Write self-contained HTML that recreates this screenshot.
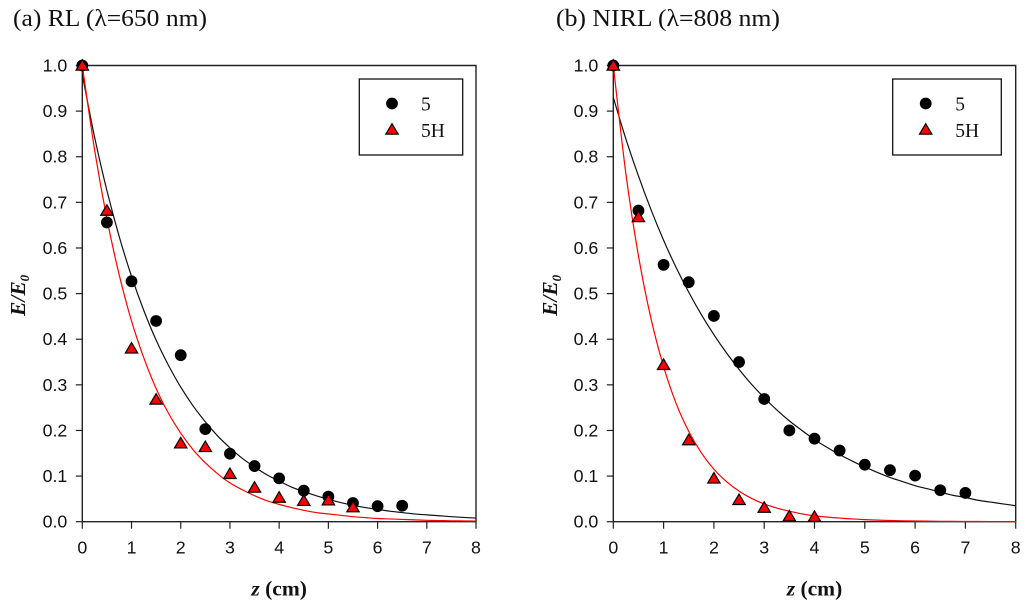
<!DOCTYPE html>
<html lang="en">
<head>
<meta charset="utf-8">
<title>E/E0 versus depth for RL and NIRL</title>
<style>
html,body{margin:0;padding:0;background:#fff;}
svg{display:block;filter:blur(0.35px);}
.serif{font-family:"Liberation Serif",serif;}
.sans{font-family:"Liberation Sans",sans-serif;}
</style>
</head>
<body>
<svg id="chart" xmlns="http://www.w3.org/2000/svg" width="1024" height="604" viewBox="0 0 1024 604">
  <rect width="1024" height="604" fill="#fff"/>
  <text class="serif" x="13" y="26" font-size="24" fill="#111" textLength="194" lengthAdjust="spacingAndGlyphs">(a) RL (λ=650 nm)</text>
  <text class="serif" x="556" y="26" font-size="24" fill="#111" textLength="224" lengthAdjust="spacingAndGlyphs">(b) NIRL (λ=808 nm)</text>
  <g id="panel-a"></g>
  <g id="panel-b"></g>
</svg>
<script>
var yTickLabels = ['0.0','0.1','0.2','0.3','0.4','0.5','0.6','0.7','0.8','0.9','1.0'];
var xTickLabels = ['0','1','2','3','4','5','6','7','8'];
var legendLabels = ['5','5H'];

var curveDepths = [0,0.25,0.5,0.75,1,1.25,1.5,1.75,2,2.25,2.5,2.75,3,3.25,3.5,3.75,4,4.25,4.5,4.75,5,5.25,5.5,5.75,6,6.25,6.5,6.75,7,7.25,7.5,7.75,8];
var curveA5 = [0.98,0.843,0.726,0.625,0.538,0.463,0.398,0.343,0.295,0.254,0.219,0.188,0.162,0.139,0.120,0.103,0.089,0.076,0.066,0.057,0.049,0.042,0.036,0.031,0.027,0.023,0.020,0.017,0.015,0.013,0.011,0.0093,0.008];
var curveA5H = [1,0.815,0.664,0.541,0.440,0.359,0.292,0.238,0.194,0.158,0.129,0.105,0.085,0.070,0.057,0.046,0.038,0.031,0.025,0.020,0.017,0.014,0.011,0.009,0.007,0.006,0.005,0.004,0.003,0.0025,0.002,0.0017,0.0014];
var curveB5 = [0.93,0.839,0.758,0.684,0.617,0.557,0.503,0.454,0.410,0.370,0.334,0.301,0.272,0.245,0.221,0.200,0.180,0.163,0.147,0.133,0.120,0.108,0.097,0.088,0.079,0.072,0.065,0.058,0.053,0.047,0.043,0.039,0.035];
var curveB5H = [1,0.763,0.583,0.445,0.340,0.259,0.198,0.151,0.115,0.088,0.067,0.051,0.039,0.030,0.023,0.017,0.013,0.010,0.008,0.006,0.0046,0.0035,0.0027,0.002,0.0015,0.0012,0.0009,0.0007,0.0005,0.0004,0.0003,0.0002,0.0002];

var pointsADepth5 = [0,0.5,1,1.5,2,2.5,3,3.5,4,4.5,5,5.5,6,6.5];
var pointsAValue5 = [1,0.656,0.527,0.44,0.365,0.203,0.149,0.122,0.095,0.068,0.055,0.041,0.034,0.035];
var pointsADepth5H = [0,0.5,1,1.5,2,2.5,3,3.5,4,4.5,5,5.5];
var pointsAValue5H = [1,0.682,0.38,0.268,0.172,0.164,0.105,0.075,0.053,0.046,0.047,0.032];
var pointsBDepth5 = [0,0.5,1,1.5,2,2.5,3,3.5,4,4.5,5,5.5,6,6.5,7];
var pointsBValue5 = [1,0.682,0.563,0.525,0.451,0.35,0.269,0.2,0.182,0.156,0.125,0.113,0.101,0.069,0.063];
var pointsBDepth5H = [0,0.5,1,1.5,2,2.5,3,3.5,4];
var pointsBValue5H = [1,0.668,0.344,0.179,0.095,0.048,0.031,0.012,0.011];

var NS = 'http://www.w3.org/2000/svg';
var AXIS = '#222';
var TEXT = '#111';

function make(parent, tag, attrs, text) {
  var el = document.createElementNS(NS, tag);
  for (var k in attrs) el.setAttribute(k, attrs[k]);
  if (text !== undefined) el.textContent = text;
  parent.appendChild(el);
  return el;
}

function drawCircle(parent, cx, cy) {
  var el = make(parent, 'circle', {cx: cx, cy: cy, r: 5.9, fill: '#000'});
  
  
}

function drawTriangle(parent, cx, cy) {
  var pts = cx + ',' + (cy - 5.8) + ' ' + (cx + 6.2) + ',' + (cy + 4.7) + ' ' + (cx - 6.2) + ',' + (cy + 4.7);
  var el = make(parent, 'polygon', {points: pts, fill: '#f00', stroke: '#000', 'stroke-width': 1.2, 'stroke-linejoin': 'miter'});
  
  
}

function drawCurve(parent, sx, sy, depths, values, color, name) {
  var p = depths.map(function (d, i) { return [sx(d), sy(values[i])]; });
  var d = 'M' + p[0][0] + ' ' + p[0][1];
  for (var i = 0; i < p.length - 1; i++) {
    var a = p[Math.max(i - 1, 0)], b = p[i], c = p[i + 1], e = p[Math.min(i + 2, p.length - 1)];
    d += ' C' + (b[0] + (c[0] - a[0]) / 6) + ' ' + (b[1] + (c[1] - a[1]) / 6) + ' ' +
         (c[0] - (e[0] - b[0]) / 6) + ' ' + (c[1] - (e[1] - b[1]) / 6) + ' ' + c[0] + ' ' + c[1];
  }
  var el = make(parent, 'path', {d: d, fill: 'none', stroke: color, 'stroke-width': 1.2});
  
  
}

function drawPanel(cfg) {
  var g = document.getElementById(cfg.id);
  var top = 65.5, bottom = 521.7;
  var sx = function (v) { return cfg.x0 + (cfg.x1 - cfg.x0) * v / 8; };
  var sy = function (v) { return bottom + (top - bottom) * v; };

  var frame = make(g, 'path', {
    d: 'M' + cfg.x0 + ' ' + top + 'H' + cfg.x1 + 'V' + bottom + 'H' + cfg.x0 + 'Z',
    fill: 'none', stroke: AXIS, 'stroke-width': 1.4
  });
  
  

  yTickLabels.forEach(function (label) {
    var y = sy(parseFloat(label));
    var tick = make(g, 'line', {x1: cfg.x0 - 6.5, x2: cfg.x0, y1: y, y2: y, stroke: AXIS, 'stroke-width': 1.2});
    
    
    var t = make(g, 'text', {x: cfg.x0 - 15, y: y + 6, 'text-anchor': 'end', 'font-size': 17.8, fill: TEXT, 'class': 'sans'}, label);
    
    
  });

  xTickLabels.forEach(function (label) {
    var x = sx(parseFloat(label));
    var tick = make(g, 'line', {x1: x, x2: x, y1: bottom, y2: bottom + 7, stroke: AXIS, 'stroke-width': 1.2});
    
    
    var t = make(g, 'text', {x: x, y: 553.5, 'text-anchor': 'middle', 'font-size': 17.8, fill: TEXT, 'class': 'sans'}, label);
    
    
  });

  drawCurve(g, sx, sy, curveDepths, cfg.curve5, '#111', 'fit-curve-5');
  drawCurve(g, sx, sy, curveDepths, cfg.curve5H, '#f00', 'fit-curve-5h');

  cfg.depth5.forEach(function (d, i) { drawCircle(g, sx(d), sy(cfg.value5[i])); });
  cfg.depth5H.forEach(function (d, i) { drawTriangle(g, sx(d), sy(cfg.value5H[i])); });

  var xTitle = make(g, 'text', {x: sx(4), y: 595.5, 'text-anchor': 'middle', 'font-size': 21.5, 'font-weight': 'bold', fill: TEXT, 'class': 'serif'});
  
  
  make(xTitle, 'tspan', {'font-style': 'italic'}, 'z');
  make(xTitle, 'tspan', {}, ' (cm)');

  var yTitle = make(g, 'text', {transform: 'translate(' + cfg.yTitleX + ',316) rotate(-90)', 'font-size': 21.5, 'font-weight': 'bold', 'font-style': 'italic', fill: TEXT, 'class': 'serif'});
  
  
  make(yTitle, 'tspan', {}, 'E/E');
  make(yTitle, 'tspan', {dy: 4, 'font-size': 13}, '0');

  var lg = make(g, 'g', {});
  
  
  var box = make(lg, 'rect', {x: cfg.legendX, y: 79, width: cfg.legendW, height: 76, fill: '#fff', stroke: '#111', 'stroke-width': 1.3});
  
  
  drawCircle(lg, cfg.legendMarkerX, 103.5);
  drawTriangle(lg, cfg.legendMarkerX, 129.5);
  var l1 = make(lg, 'text', {x: cfg.legendTextX, y: 110.5, 'font-size': 19.5, fill: TEXT, 'class': 'serif'}, legendLabels[0]);
  
  
  var l2 = make(lg, 'text', {x: cfg.legendTextX, y: 137, 'font-size': 19.5, fill: TEXT, 'class': 'serif'}, legendLabels[1]);
  
  
}

drawPanel({
  id: 'panel-a', x0: 82.3, x1: 476,
  curve5: curveA5, curve5H: curveA5H,
  depth5: pointsADepth5, value5: pointsAValue5,
  depth5H: pointsADepth5H, value5H: pointsAValue5H,
  yTitleX: 25, legendX: 359.3, legendW: 103.4, legendMarkerX: 392, legendTextX: 421
});
drawPanel({
  id: 'panel-b', x0: 613.3, x1: 1015.7,
  curve5: curveB5, curve5H: curveB5H,
  depth5: pointsBDepth5, value5: pointsBValue5,
  depth5H: pointsBDepth5H, value5H: pointsBValue5H,
  yTitleX: 557, legendX: 892.7, legendW: 108.6, legendMarkerX: 925.7, legendTextX: 955.3
});
</script>
</body>
</html>
